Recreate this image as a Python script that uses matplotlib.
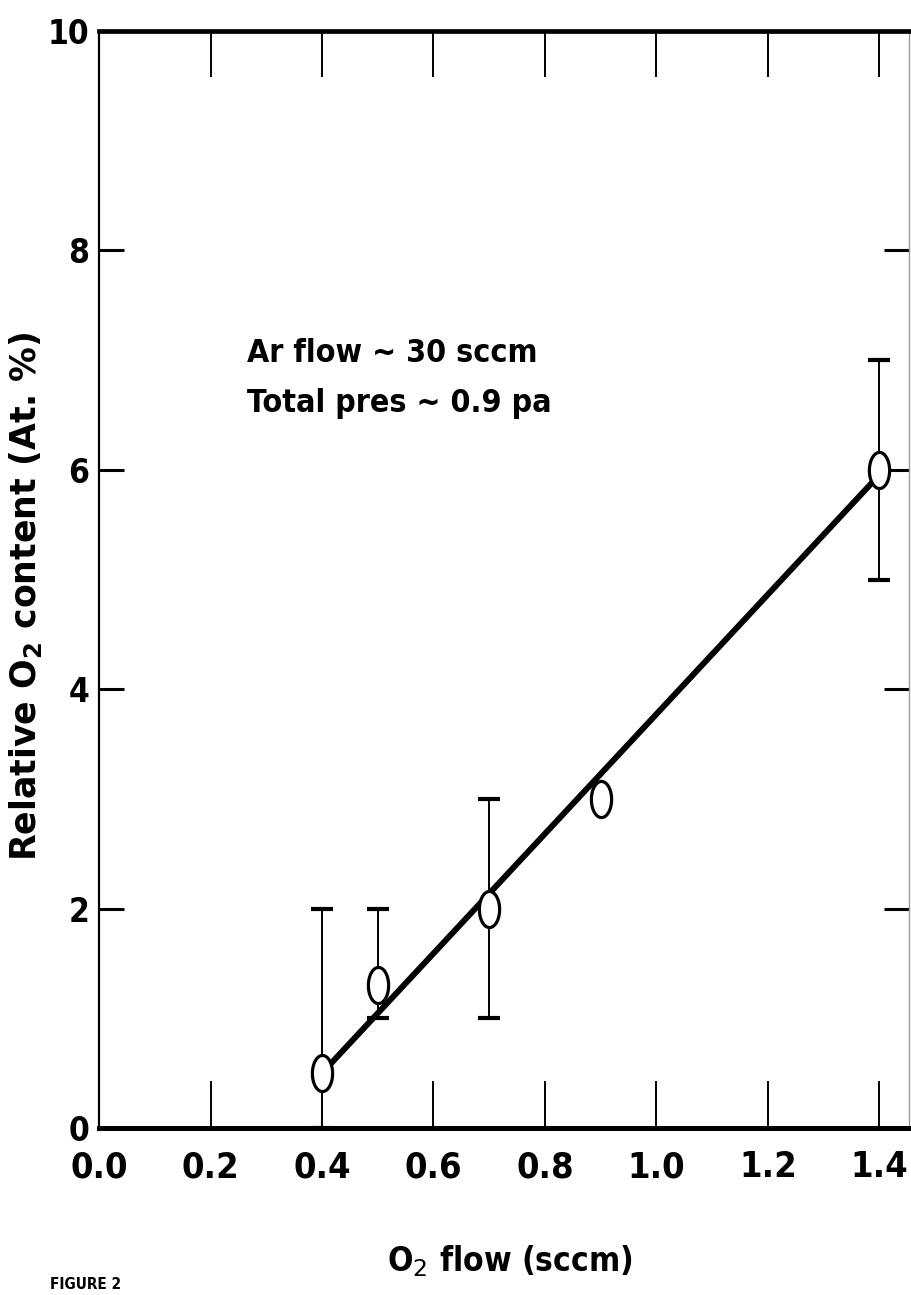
import numpy as np
import matplotlib
matplotlib.use("Agg")
import matplotlib.pyplot as plt
from matplotlib import font_manager
from matplotlib.font_manager import FontProperties
from matplotlib.path import Path
from matplotlib.markers import MarkerStyle

# data
o2_flow = [0.4, 0.5, 0.7, 0.9, 1.4]
o2_content = [0.5, 1.3, 2.0, 3.0, 6.0]

err_flow = [0.4, 0.5, 0.7, 1.4]
err_center = [0.5, 1.3, 2.0, 6.0]
err_low = [0.0, 1.0, 1.0, 5.0]
err_high = [2.0, 2.0, 3.0, 7.0]

fit_flow = [0.4, 1.39]
fit_content = [0.5, 5.9]

x_ticks = [0.0, 0.2, 0.4, 0.6, 0.8, 1.0, 1.2, 1.4]
x_ticklabels = ["0.0", "0.2", "0.4", "0.6", "0.8", "1.0", "1.2", "1.4"]
y_ticks = [0, 2, 4, 6, 8, 10]
y_ticklabels = ["0", "2", "4", "6", "8", "10"]


def find_font(keys, bold=True):
    for key in keys:
        for f in font_manager.fontManager.ttflist:
            fn = f.fname.replace("-", "").replace("_", "").lower()
            if key in fn and (("bold" in fn) == bold) and "italic" not in fn and "oblique" not in fn:
                return f.fname
    return None


narrow_file = find_font(["liberationsansnarrow", "dejavusanscondensed", "robotocondensed",
                         "opensanscondensed", "notosanscondensed"])
if narrow_file:
    narrow = FontProperties(fname=narrow_file)
    narrow_name = narrow.get_name()
else:
    narrow = FontProperties(family="Liberation Sans", weight="bold")
    narrow_name = "Liberation Sans"

plt.rcParams["mathtext.fontset"] = "custom"
plt.rcParams["mathtext.rm"] = narrow_name + ":bold"
plt.rcParams["mathtext.bf"] = "DejaVu Sans:bold"


def nf(size):
    p = narrow.copy()
    p.set_size(size)
    return p


fig = plt.figure(figsize=(9.11, 12.95), dpi=100)
ax = fig.add_axes([0.1087, 0.129, 0.889, 0.847])
ax.set_xlim(0, 1.453)
ax.set_ylim(0, 10)

# fitted line
ax.plot(fit_flow, fit_content, color="black", lw=4.3, solid_capstyle="round", zorder=2)

# error bars
yerr = [np.array(err_center) - np.array(err_low), np.array(err_high) - np.array(err_center)]
ax.errorbar(err_flow, err_center, yerr=yerr, fmt="none", ecolor="black",
            elinewidth=1.4, capsize=8, capthick=3, zorder=1)

# open elliptical markers
t = np.linspace(0, 2 * np.pi, 80)
ellipse = Path(np.column_stack([0.56 * np.cos(t), np.sin(t)]))
ax.plot(o2_flow, o2_content, linestyle="none", marker=MarkerStyle(ellipse),
        markersize=26, markerfacecolor="white", markeredgecolor="black",
        markeredgewidth=2.3, zorder=3)

# spines
ax.spines["bottom"].set_linewidth(3.6)
ax.spines["top"].set_linewidth(3.4)
ax.spines["left"].set_linewidth(1.6)
ax.spines["right"].set_linewidth(1.0)
ax.spines["right"].set_color("0.6")

# ticks
ax.set_xticks(x_ticks)
ax.set_xticklabels(x_ticklabels, fontproperties=nf(26))
ax.set_yticks(y_ticks)
ax.set_yticklabels(y_ticklabels, fontproperties=nf(24))
ax.tick_params(axis="x", direction="in", length=34, width=1.4, pad=16)
ax.tick_params(axis="y", direction="in", length=18, width=2.2, pad=7)

top = ax.secondary_xaxis("top")
top.set_xticks(x_ticks[1:])
top.tick_params(direction="in", length=33, width=1.4, labeltop=False)
top.spines["top"].set_visible(False)

right = ax.secondary_yaxis("right")
right.set_yticks(y_ticks[1:-1])
right.tick_params(direction="in", length=18, width=2.2, labelright=False)
right.spines["right"].set_visible(False)

# labels
ax.set_xlabel(r"O$_\mathrm{2}$ flow (sccm)", fontproperties=nf(24))
ax.xaxis.set_label_coords(0.507, -0.105)
fig.text(0.028, 0.54, r"Relative O$_\mathbf{2}$ content (At. %)", rotation=90,
         ha="center", va="center", fontfamily="DejaVu Sans", fontweight="bold", fontsize=25)

ax.text(0.265, 6.98, "Ar flow ~ 30 sccm", fontproperties=nf(23))
ax.text(0.265, 6.53, "Total pres ~ 0.9 pa", fontproperties=nf(23))

fig.text(0.055, 0.002, "FIGURE 2", fontproperties=nf(11), va="bottom")

fig.savefig("out.png", dpi=100, facecolor="white")
